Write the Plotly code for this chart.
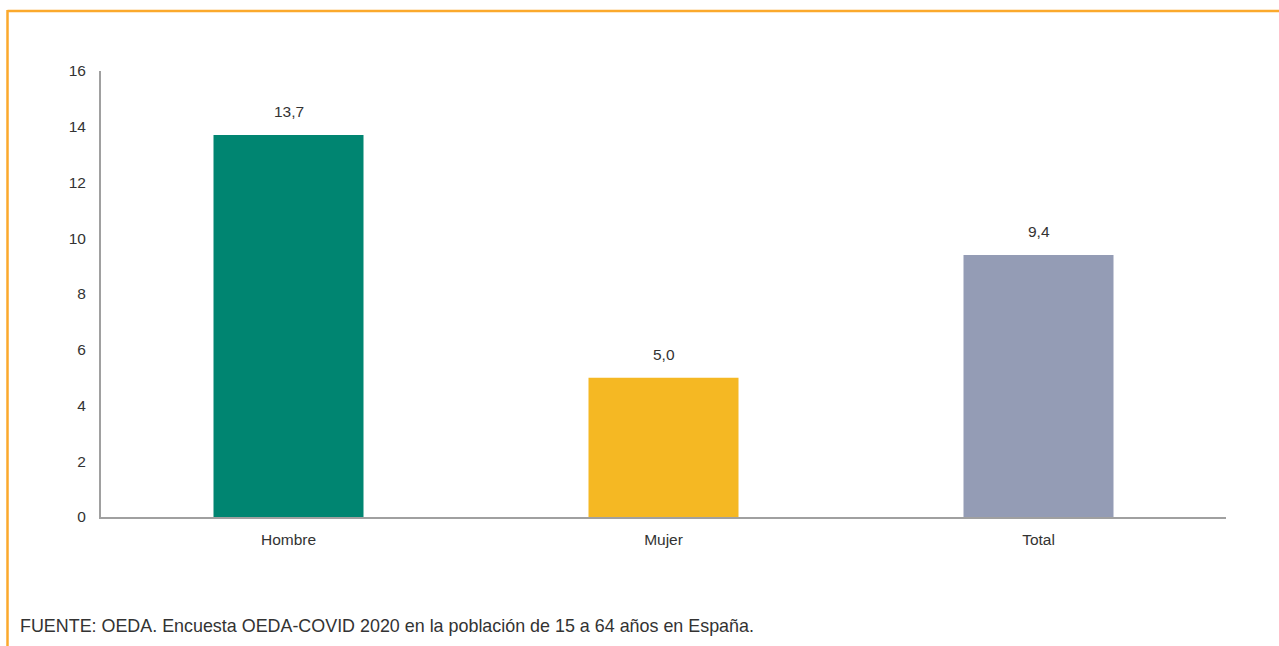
import plotly.graph_objects as go

categories = ["Hombre", "Mujer", "Total"]
values = [13.7, 5.0, 9.4]
colors = ["#008571", "#F5B823", "#949CB5"]
y_ticks = [0, 2, 4, 6, 8, 10, 12, 14, 16]
source = "FUENTE: OEDA. Encuesta OEDA-COVID 2020 en la población de 15 a 64 años en España."

FONT = "Liberation Sans, Arial, sans-serif"
TXT = "#333333"
LBL = 15.5

fig = go.Figure()
fig.add_trace(go.Bar(
    x=categories, y=values, marker=dict(color=colors, line=dict(width=0)),
    width=0.4, hoverinfo="skip",
))

for c, v in zip(categories, values):
    fig.add_annotation(x=c, y=v, text=f"{v:.1f}".replace(".", ","),
                       showarrow=False, yanchor="bottom", yshift=13,
                       font=dict(family=FONT, size=LBL, color=TXT))

fig.add_annotation(xref="paper", yref="paper", x=(18 - 101) / 1125, y=(517 - 626) / 446,
                   xanchor="left", yanchor="middle", showarrow=False, text=source,
                   font=dict(family=FONT, size=17.9, color=TXT))

orange = "#FBA92C"
# top border
fig.add_shape(type="line", xref="paper", yref="paper",
              x0=(7.5 - 101) / 1125, x1=(1290 - 101) / 1125,
              y0=(517 - 11) / 446, y1=(517 - 11) / 446,
              line=dict(color=orange, width=2.5))
# left border
fig.add_shape(type="line", xref="paper", yref="paper",
              x0=(7.5 - 101) / 1125, x1=(7.5 - 101) / 1125,
              y0=(517 - 10) / 446, y1=(517 - 660) / 446,
              line=dict(color=orange, width=2.5))

fig.update_layout(
    width=1279, height=646,
    margin=dict(l=101, r=53, t=71, b=129),
    paper_bgcolor="white", plot_bgcolor="white",
    showlegend=False,
    font=dict(family=FONT, size=LBL, color=TXT),
    bargap=0.6,
)
fig.update_xaxes(showline=True, linecolor="#A0A0A0", linewidth=2, showgrid=False,
                 ticks="", ticklabelstandoff=7, tickfont=dict(size=LBL, color=TXT),
                 fixedrange=True)
fig.update_yaxes(range=[0, 16], tickvals=y_ticks, showline=True, linecolor="#A0A0A0",
                 linewidth=2, showgrid=False, zeroline=False, ticks="",
                 ticklabelstandoff=10, tickfont=dict(size=LBL, color=TXT), fixedrange=True)

fig.write_html("out.html", config={"displayModeBar": False},
               post_script="document.body.style.margin='0';document.body.style.overflow='hidden';")
